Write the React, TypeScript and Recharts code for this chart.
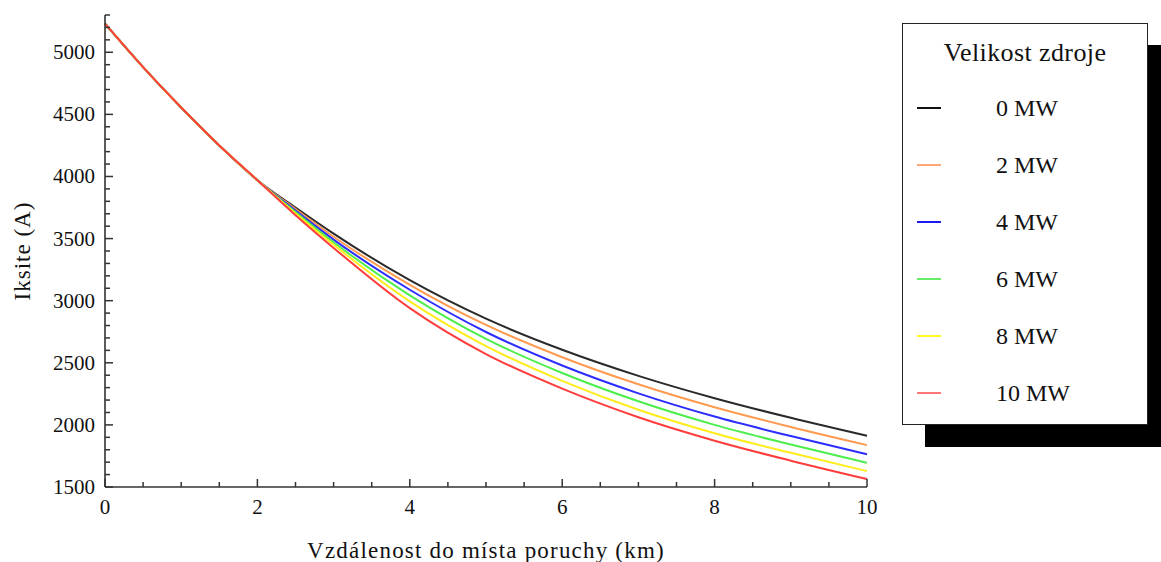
import React from 'react';
import { LineChart, Line, XAxis, YAxis, Label } from 'recharts';

// vzdálenost do místa poruchy (km)
const distanceKm = [0, 0.5, 1, 1.5, 2, 2.5, 3, 4, 5, 6, 7, 8, 9, 10];

// Iksite (A) pro jednotlivé velikosti zdroje
const ik0MW = [5230, 4880, 4555, 4250, 3970, 3750, 3540, 3165, 2855, 2605, 2395, 2215, 2057, 1912];
const ik2MW = [5230, 4880, 4555, 4250, 3970, 3738, 3515, 3128, 2805, 2545, 2327, 2142, 1983, 1837];
const ik4MW = [5230, 4880, 4555, 4250, 3970, 3725, 3492, 3088, 2748, 2478, 2254, 2067, 1910, 1763];
const ik6MW = [5230, 4880, 4555, 4250, 3970, 3713, 3470, 3043, 2693, 2418, 2190, 2000, 1842, 1695];
const ik8MW = [5230, 4880, 4555, 4250, 3970, 3702, 3450, 2995, 2635, 2355, 2122, 1933, 1775, 1628];
const ik10MW = [5230, 4880, 4555, 4250, 3970, 3688, 3425, 2940, 2570, 2292, 2062, 1873, 1712, 1564];

const seriesNames = ['0 MW', '2 MW', '4 MW', '6 MW', '8 MW', '10 MW'];
const seriesValues = [ik0MW, ik2MW, ik4MW, ik6MW, ik8MW, ik10MW];

const xTickLabels = [0, 2, 4, 6, 8, 10];
const yTickLabels = [1500, 2000, 2500, 3000, 3500, 4000, 4500, 5000];

const legendTitle = 'Velikost zdroje';
const xTitle = 'Vzdálenost do místa poruchy (km)';
const yTitle = 'Iksite (A)';

const lineColors = ['#2a2a2a', '#ff9a50', '#2d2dff', '#4cee4c', '#ffec1a', '#ff3d3d'];
const legendColors = ['#111111', '#ffa874', '#1a1aee', '#66ee66', '#ffff20', '#ff7777'];

const FONT = '"Liberation Serif", "Times New Roman", serif';
const AXIS = '#333';

// minor ticks: 0.5 km / 100 A
const xTicks: number[] = [];
for (let i = 0; i <= 20; i++) xTicks.push(i * 0.5);
const yTicks: number[] = [];
for (let v = 1500; v <= 5300; v += 100) yTicks.push(v);

const data = distanceKm.map((d, i) => {
  const row: Record<string, number> = { km: d };
  seriesNames.forEach((n, s) => {
    row[n] = seriesValues[s][i];
  });
  return row;
});

const XTick = (props: any) => {
  const { x, y, payload } = props;
  const major = xTickLabels.includes(payload.value);
  return (
    <g>
      <line x1={x} x2={x} y1={y} y2={y - (major ? 8 : 5)} stroke={AXIS} strokeWidth={1.5} />
      {major && (
        <text
          x={x}
          y={y + 20}
          textAnchor="middle"
          dominantBaseline="central"
          fontSize={21}
          fill="#111"
          style={{ fontFamily: FONT }}
        >
          {payload.value}
        </text>
      )}
    </g>
  );
};

const YTick = (props: any) => {
  const { x, y, payload } = props;
  const major = yTickLabels.includes(payload.value);
  return (
    <g>
      <line x1={x} x2={x + (major ? 8 : 5)} y1={y} y2={y} stroke={AXIS} strokeWidth={1.5} />
      {major && (
        <text
          x={x - 10}
          y={y}
          textAnchor="end"
          dominantBaseline="central"
          fontSize={21}
          fill="#111"
          style={{ fontFamily: FONT }}
        >
          {payload.value}
        </text>
      )}
    </g>
  );
};

const SourceLegend = () => (
  <div style={{ position: 'absolute', left: 902, top: 23, width: 246, height: 402 }}>
    <div style={{ position: 'absolute', left: 23, top: 22, width: 246, height: 402, background: '#000' }} />
    <div
      style={{
        position: 'absolute',
        left: 0,
        top: 0,
        width: 244,
        height: 400,
        background: '#fff',
        border: '1px solid #222',
      }}
    >
      <div
        style={{
          position: 'absolute',
          left: 0,
          top: 12,
          width: 244,
          textAlign: 'center',
          fontSize: 26,
          lineHeight: '34px',
          letterSpacing: 0.4,
        }}
      >
        {legendTitle}
      </div>
      {seriesNames.map((n, i) => (
        <div key={n} style={{ position: 'absolute', left: 0, top: 84 + i * 57 - 17, height: 34, width: 244 }}>
          <div style={{ position: 'absolute', left: 14, top: 16, width: 24, height: 2, background: legendColors[i] }} />
          <div style={{ position: 'absolute', left: 93, top: 0, fontSize: 24, lineHeight: '34px' }}>{n}</div>
        </div>
      ))}
    </div>
  </div>
);

export default function App() {
  return (
    <div
      style={{
        position: 'absolute',
        left: 0,
        top: 0,
        width: 1161,
        height: 562,
        background: '#fff',
        overflow: 'hidden',
        fontFamily: FONT,
        color: '#111',
      }}
    >
      <LineChart width={1161} height={562} data={data} margin={{ top: 15, right: 294, bottom: 0, left: 0 }}>
        <XAxis
          dataKey="km"
          type="number"
          domain={[0, 10]}
          ticks={xTicks}
          interval={0}
          height={75}
          tickSize={0}
          tickMargin={0}
          tick={<XTick />}
          axisLine={{ stroke: AXIS, strokeWidth: 1.6 }}
        >
          <Label
            content={(p: any) => (
              <text
                x={p.viewBox.x + p.viewBox.width / 2}
                y={550}
                textAnchor="middle"
                dominantBaseline="central"
                fontSize={23}
                letterSpacing={1.2}
                fill="#111"
                style={{ fontFamily: FONT }}
              >
                {xTitle}
              </text>
            )}
          />
        </XAxis>
        <YAxis
          type="number"
          domain={[1500, 5300]}
          ticks={yTicks}
          interval={0}
          width={105}
          tickSize={0}
          tickMargin={0}
          tick={<YTick />}
          axisLine={{ stroke: AXIS, strokeWidth: 1.6 }}
        >
          <Label
            content={(p: any) => {
              const cy = p.viewBox.y + p.viewBox.height / 2;
              return (
                <text
                  x={22}
                  y={cy}
                  transform={`rotate(-90 22 ${cy})`}
                  textAnchor="middle"
                  dominantBaseline="central"
                  fontSize={23}
                  letterSpacing={1}
                  fill="#111"
                  style={{ fontFamily: FONT }}
                >
                  {yTitle}
                </text>
              );
            }}
          />
        </YAxis>
        {seriesNames.map((n, i) => (
          <Line
            key={n}
            dataKey={n}
            name={n}
            type="monotone"
            stroke={lineColors[i]}
            strokeWidth={2}
            dot={false}
            activeDot={false}
            isAnimationActive={false}
          />
        ))}
      </LineChart>
      <SourceLegend />
    </div>
  );
}
